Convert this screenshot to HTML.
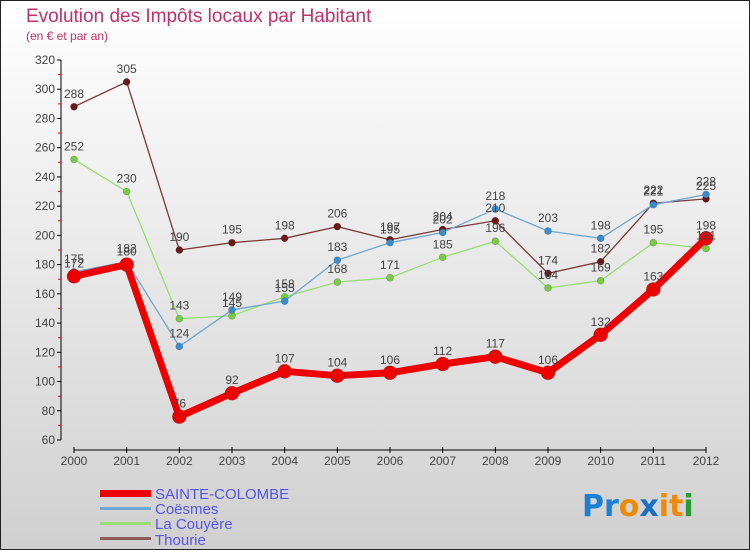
<!DOCTYPE html>
<html><head><meta charset="utf-8"><style>
body{margin:0;width:750px;height:550px;overflow:hidden;font-family:"Liberation Sans",sans-serif}
svg{display:block}
</style></head><body>
<svg id="chart" width="750" height="550" xmlns="http://www.w3.org/2000/svg">
<defs><linearGradient id="bg" x1="0" y1="0" x2="0" y2="1"><stop offset="0" stop-color="#ffffff"/><stop offset="1" stop-color="#d0d0d0"/></linearGradient></defs>
<rect x="0.5" y="0.5" width="749" height="549" fill="url(#bg)" stroke="#222" stroke-width="1"/>
<text x="26" y="22" font-size="19" fill="#c0306a">Evolution des Impôts locaux par Habitant</text>
<text x="26" y="40" font-size="12" fill="#c0306a">(en € et par an)</text>
<g id="axes"></g><g id="series"></g><g id="labels"></g>
<g font-size="15" fill="#5555ee">
<rect x="100" y="490" width="51" height="7" fill="#ee0000"/><text x="155" y="499">SAINTE-COLOMBE</text>
<rect x="100" y="507" width="51" height="3" fill="#6fa8d0"/><text x="155" y="514">Coësmes</text>
<rect x="100" y="522" width="51" height="3" fill="#99dd77"/><text x="155" y="529">La Couyère</text>
<rect x="100" y="537" width="51" height="3" fill="#8b5a5a"/><text x="155" y="545">Thourie</text>
</g>
<g font-size="30" font-weight="bold" font-family="'DejaVu Sans',sans-serif">
<text x="582" y="516"><tspan fill="#1a7fd6">Pr</tspan><tspan fill="#f08a00">o</tspan><tspan fill="#1a6fc6">x</tspan><tspan fill="#f08a00">i</tspan><tspan fill="#f08a00">t</tspan><tspan fill="#2a9a3a">i</tspan></text>
</g>
</svg>
<script>
const years=[2000,2001,2002,2003,2004,2005,2006,2007,2008,2009,2010,2011,2012];
const yTicks=[60,80,100,120,140,160,180,200,220,240,260,280,300,320];
const sainteColombe=[172,180,76,92,107,104,106,112,117,106,132,163,198];
const coesmes=[175,182,124,149,155,183,195,202,218,203,198,221,228];
const laCouyere=[252,230,143,145,158,168,171,185,196,164,169,195,191];
const thourie=[288,305,190,195,198,206,197,204,210,174,182,222,225];
const NS="http://www.w3.org/2000/svg";
const xs=i=>74+i*(706-74)/(years.length-1);
const ys=v=>440-(v-60)*(380/260);
function mk(tag,attrs,parent){const e=document.createElementNS(NS,tag);for(const k in attrs)e.setAttribute(k,attrs[k]);parent.appendChild(e);return e;}
const axes=document.getElementById('axes'),ser=document.getElementById('series'),lab=document.getElementById('labels');
const ya=mk('line',{x1:61,y1:60,x2:61,y2:440,stroke:'#000'},axes);

yTicks.forEach((t,i)=>{const y=ys(t);mk('line',{x1:57,y1:y,x2:61,y2:y,stroke:'#000'},axes);
 if(i<yTicks.length-1){const m=ys(t+10);mk('line',{x1:58,y1:m,x2:61,y2:m,stroke:'#e00'},axes);}
 const tx=mk('text',{x:55,y:y+4,'text-anchor':'end','font-size':12,fill:'#444'},axes);tx.textContent=t;
 });
const xa=mk('line',{x1:74,y1:450,x2:706,y2:450,stroke:'#000'},axes);

years.forEach((yr,i)=>{const x=xs(i);mk('line',{x1:x,y1:447,x2:x,y2:453,stroke:'#000'},axes);
 const tx=mk('text',{x:x,y:465,'text-anchor':'middle','font-size':12,fill:'#444'},axes);tx.textContent=yr;
 });
const defs=[["thourie",thourie,"#7a3a3a","#6a1818",1.3,3.5],["la-couyere",laCouyere,"#99dd77","#77cc44",1.3,3.5],["coesmes",coesmes,"#6fa8d0","#3a8ccc",1.3,3.5],["sainte-colombe",sainteColombe,"#ee0000","#ee0000",7,7]];
defs.forEach(([nm,d,lc,pc,w,r])=>{
 const p=mk('polyline',{points:d.map((v,i)=>xs(i)+','+ys(v)).join(' '),fill:'none',stroke:lc,'stroke-width':w,'stroke-linejoin':'round'},ser);
 
 d.forEach((v,i)=>{const c=mk('circle',{cx:xs(i),cy:ys(v),r:r,fill:pc,stroke:'rgba(0,0,0,0.25)','stroke-width':0.6},ser);
  
  const t=mk('text',{x:xs(i),y:ys(v)-9,'text-anchor':'middle','font-size':12,fill:'#444'},lab);t.textContent=v;
  });
});
</script>
</body></html>
